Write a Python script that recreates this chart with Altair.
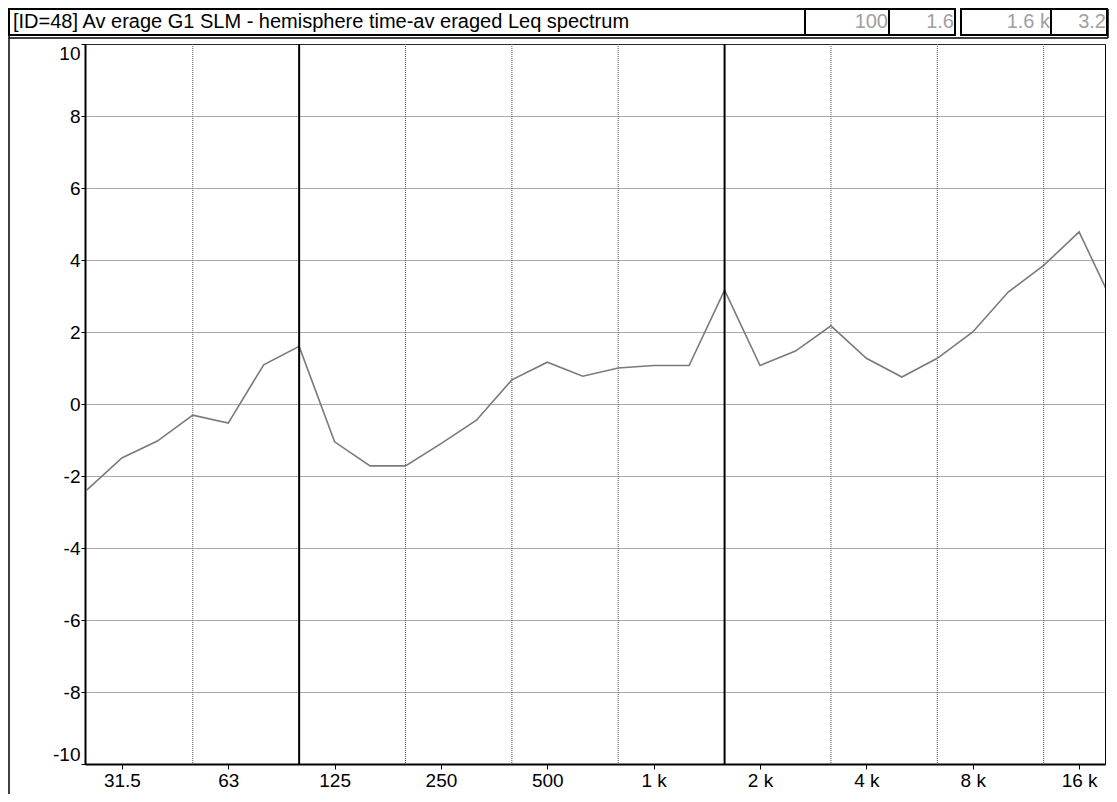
import altair as alt
import pandas as pd

# ---- data ----
bands = ["25", "31.5", "40", "50", "63", "80", "100", "125", "160", "200",
         "250", "315", "400", "500", "630", "800", "1 k", "1.25 k", "1.6 k", "2 k",
         "2.5 k", "3.15 k", "4 k", "5 k", "6.3 k", "8 k", "10 k", "12.5 k", "16 k", "20 k"]
levels = [-2.4, -1.5, -1.03, -0.31, -0.53, 1.09, 1.6, -1.05, -1.72, -1.72,
          -1.1, -0.45, 0.67, 1.16, 0.77, 1.0, 1.07, 1.07, 3.16, 1.07,
          1.47, 2.17, 1.27, 0.75, 1.27, 2.0, 3.11, 3.85, 4.78, 2.7]
x_label_bands = ["31.5", "63", "125", "250", "500", "1 k", "2 k", "4 k", "8 k", "16 k"]
grid_bands = ["50", "200", "400", "800", "3.15 k", "6.3 k", "12.5 k"]
cursor_bands = ["100", "1.6 k"]
cursor_readouts = ["100", "1.6", "1.6 k", "3.2"]
y_ticks = [-10, -8, -6, -4, -2, 0, 2, 4, 6, 8, 10]
title_text = "[ID=48] Av erage G1 SLM - hemisphere time-av eraged Leq spectrum"

FONT = "Liberation Sans"
FS = 19
TFS = 20

idx = {b: i for i, b in enumerate(bands)}
df = pd.DataFrame({"idx": list(range(len(bands))), "band": bands, "level": levels})
grid_df = pd.DataFrame({"idx": [idx[b] for b in grid_bands]})
cursor_df = pd.DataFrame({"idx": [idx[b] for b in cursor_bands]})
x_label_idx = [idx[b] for b in x_label_bands]

label_expr = "''"
for i, lab in reversed(list(zip(x_label_idx, x_label_bands))):
    label_expr = f"datum.value == {i} ? '{lab}' : ({label_expr})"

xs = alt.Scale(domain=[-0.04, 28.73], nice=False, zero=False)
ys = alt.Scale(domain=[-10, 10], nice=False, zero=False)

x_axis = alt.Axis(values=x_label_idx, labelExpr=label_expr, grid=False, title=None,
                  domainColor="black", domainWidth=2, tickColor="black", tickSize=5,
                  tickWidth=1, labelFont=FONT, labelFontSize=FS, labelColor="black",
                  labelPadding=2)
y_axis = alt.Axis(values=y_ticks, labelExpr="toString(datum.value)", grid=True,
                  gridColor="#555555", gridDash=[1, 1], gridOpacity=1,
                  gridWidth=1, title=None, domainColor="black", domainWidth=2,
                  tickColor="black", tickSize=4, labelFont=FONT, labelFontSize=FS,
                  labelColor="black", labelPadding=1, labelFlush=True)

line = alt.Chart(df).mark_line(color="#7a7a7a", strokeWidth=1.6, clip=True).encode(
    x=alt.X("idx:Q", scale=xs, axis=x_axis),
    y=alt.Y("level:Q", scale=ys, axis=y_axis),
)

vgrid = alt.Chart(grid_df).mark_rule(color="#555555", strokeDash=[1, 1], strokeWidth=1).encode(
    x=alt.X("idx:Q", scale=xs)
)
cursors = alt.Chart(cursor_df).mark_rule(color="black", strokeWidth=2).encode(
    x=alt.X("idx:Q", scale=xs)
)

one = pd.DataFrame({"k": [0]})


def box(x1, x2, y1, y2, width=2):
    return alt.Chart(one).mark_rect(fill="white", stroke="black", strokeWidth=width).encode(
        x=alt.value(x1), x2=alt.value(x2), y=alt.value(y1), y2=alt.value(y2)
    )


def hline(x1, x2, y, width=1.5):
    return alt.Chart(one).mark_rule(color="black", strokeWidth=width).encode(
        x=alt.value(x1), x2=alt.value(x2), y=alt.value(y)
    )


def vline(x, y1, y2, width=1.5):
    return alt.Chart(one).mark_rule(color="black", strokeWidth=width).encode(
        x=alt.value(x), y=alt.value(y1), y2=alt.value(y2)
    )


decor = [
    box(-76, 720, -35, -9),
    box(720, 804, -35, -9),
    box(804, 870, -35, -9),
    box(876, 966, -35, -9),
    box(966, 1022, -35, -9),
    hline(-76, 1023, -6),
    vline(-76, -9, 760),
    vline(1023, -35, -6),
]

title = alt.Chart(one).mark_text(align="left", baseline="middle", font=FONT,
                                 fontSize=TFS, color="black").encode(
    x=alt.value(-72), y=alt.value(-22), text=alt.value(title_text)
)

box_right = [803, 869, 965, 1021]
readouts = [
    alt.Chart(one).mark_text(align="right", baseline="middle", font=FONT,
                             fontSize=TFS, color="#a0a0a0").encode(
        x=alt.value(r), y=alt.value(-22), text=alt.value(t)
    )
    for r, t in zip(box_right, cursor_readouts)
]

chart = alt.layer(vgrid, *decor, title, *readouts, line, cursors).properties(
    width=1020, height=720,
    autosize=alt.AutoSizeParams(type="none"),
    padding={"left": 77, "top": 36, "right": 4, "bottom": 30},
    background="white",
).configure_view(stroke="black", strokeWidth=1)

chart.save("out.html", embed_options={"renderer": "svg", "actions": False})
